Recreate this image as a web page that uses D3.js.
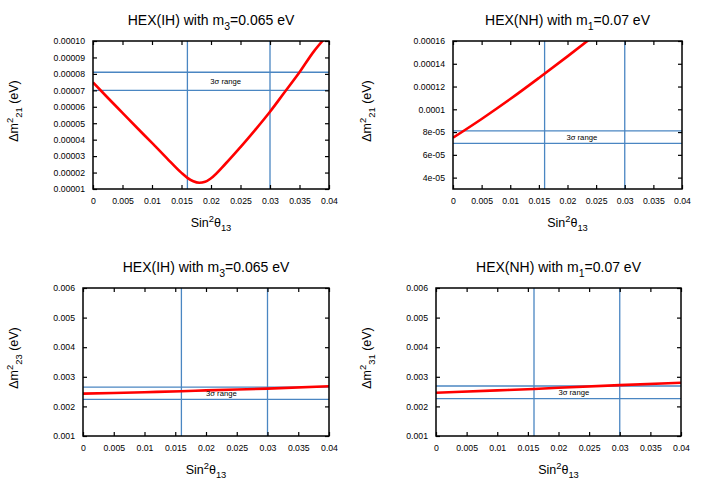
<!DOCTYPE html>
<html>
<head>
<meta charset="utf-8">
<script src="https://cdn.jsdelivr.net/npm/d3@7"></script>
<style>
  body { margin: 0; background: #fff; }
  text { font-family: "Liberation Sans", Arial, sans-serif; fill: #000; }
</style>
</head>
<body>
<div id="chart"></div>
<script>
// values
const xTicks = [0, 0.005, 0.01, 0.015, 0.02, 0.025, 0.03, 0.035, 0.04];
const xTickLabels = ["0", "0.005", "0.01", "0.015", "0.02", "0.025", "0.03", "0.035", "0.04"];
const sigmaX = [0.016, 0.030];

// top left: HEX(IH), dm2_21
const ih21X = [0, 0.0025, 0.005, 0.0075, 0.01, 0.0125, 0.015, 0.016, 0.017, 0.018, 0.019, 0.02, 0.0225, 0.025, 0.0275, 0.03, 0.0325, 0.035, 0.0375, 0.039];
const ih21Y = [7.48e-5, 6.55e-5, 5.63e-5, 4.71e-5, 3.8e-5, 2.88e-5, 1.98e-5, 1.68e-5, 1.47e-5, 1.38e-5, 1.44e-5, 1.65e-5, 2.55e-5, 3.55e-5, 4.6e-5, 5.7e-5, 6.9e-5, 8.1e-5, 9.4e-5, 1.005e-4];
const ih21Ticks = [1e-5, 2e-5, 3e-5, 4e-5, 5e-5, 6e-5, 7e-5, 8e-5, 9e-5, 1e-4];
const ih21Labels = ["0.00001", "0.00002", "0.00003", "0.00004", "0.00005", "0.00006", "0.00007", "0.00008", "0.00009", "0.00010"];

// top right: HEX(NH), dm2_21
const nh21X = [0, 0.005, 0.01, 0.015, 0.02, 0.025];
const nh21Y = [7.5e-5, 9.15e-5, 1.09e-4, 1.275e-4, 1.465e-4, 1.66e-4];
const nh21Ticks = [4e-5, 6e-5, 8e-5, 1e-4, 1.2e-4, 1.4e-4, 1.6e-4];
const nh21Labels = ["4e-05", "6e-05", "8e-05", "0.0001", "0.00012", "0.00014", "0.00016"];

// bottom left: HEX(IH), dm2_23
const ih23X = [0, 0.01, 0.016, 0.02, 0.03, 0.04];
const ih23Y = [0.00243, 0.00248, 0.00251, 0.00254, 0.0026, 0.00268];
// bottom right: HEX(NH), dm2_31
const nh31X = [0, 0.01, 0.016, 0.02, 0.03, 0.04];
const nh31Y = [0.00246, 0.00254, 0.00259, 0.00263, 0.00272, 0.0028];
const atmTicks = [0.001, 0.002, 0.003, 0.004, 0.005, 0.006];
const atmLabels = ["0.001", "0.002", "0.003", "0.004", "0.005", "0.006"];

// 3 sigma ranges
const range21 = [7.0e-5, 8.1e-5];
const range23 = [0.00224, 0.00265];
const range31 = [0.00226, 0.00269];

const width = 706, height = 494;
const blue = "#4a86c2";

const svg = d3.select("#chart").append("svg")
  .attr("width", width)
  .attr("height", height);

// helper to write text with sub/superscripts: parts = [[text, kind]]
function richText(sel, parts, size) {
  let shift = 0;
  parts.forEach(([t, kind]) => {
    let target = 0, fs = size;
    if (kind === "sub") { target = size * 0.35; fs = size * 0.75; }
    if (kind === "sup") { target = -size * 0.4; fs = size * 0.75; }
    sel.append("tspan")
      .attr("dy", target - shift)
      .attr("font-size", fs)
      .text(t);
    shift = target;
  });
}

function drawPanel(p) {
  const x = d3.scaleLinear().domain([0, 0.04]).range([p.left, p.right]);
  const y = d3.scaleLinear().domain(p.yDomain).range([p.bottom, p.top]);
  const g = svg.append("g");

  const clipId = "clip" + p.id;
  g.append("clipPath").attr("id", clipId)
    .append("rect")
    .attr("x", p.left).attr("y", p.top)
    .attr("width", p.right - p.left).attr("height", p.bottom - p.top);

  const inner = g.append("g").attr("clip-path", `url(#${clipId})`);

  // 3 sigma lines
  inner.selectAll(".hline").data(p.range).enter().append("line")
    .attr("x1", p.left).attr("x2", p.right)
    .attr("y1", d => y(d)).attr("y2", d => y(d))
    .attr("stroke", blue).attr("stroke-width", 1.3);
  inner.selectAll(".vline").data(sigmaX).enter().append("line")
    .attr("x1", d => x(d)).attr("x2", d => x(d))
    .attr("y1", p.top).attr("y2", p.bottom)
    .attr("stroke", blue).attr("stroke-width", 1.3);

  g.append("text")
    .attr("x", x(0.0225))
    .attr("y", y(d3.mean(p.range)))
    .attr("dy", "0.35em")
    .attr("text-anchor", "middle")
    .attr("font-size", 7.7)
    .text("3σ range");

  const line = d3.line()
    .x((d, i) => x(p.xs[i]))
    .y(d => y(d))
    .curve(d3.curveMonotoneX);
  inner.append("path")
    .attr("d", line(p.ys))
    .attr("fill", "none")
    .attr("stroke", "#ff0000")
    .attr("stroke-width", 2.6);

  // axes with inward ticks, mirrored
  const fmtX = (d, i) => xTickLabels[i];
  const fmtY = (d, i) => p.yLabels[i];
  const bottom = g.append("g")
    .attr("transform", `translate(0,${p.bottom})`)
    .call(d3.axisBottom(x).tickValues(xTicks).tickFormat(fmtX).tickSize(-4).tickPadding(9));
  const left = g.append("g")
    .attr("transform", `translate(${p.left},0)`)
    .call(d3.axisLeft(y).tickValues(p.yTicks).tickFormat(fmtY).tickSize(-4).tickPadding(8));
  const top = g.append("g")
    .attr("transform", `translate(0,${p.top})`)
    .call(d3.axisTop(x).tickValues(xTicks).tickFormat("").tickSize(-4));
  const right = g.append("g")
    .attr("transform", `translate(${p.right},0)`)
    .call(d3.axisRight(y).tickValues(p.yTicks).tickFormat("").tickSize(-4));
  [bottom, left, top, right].forEach(a => {
    a.select(".domain").remove();
    a.selectAll("line").attr("stroke", "#000").attr("stroke-width", 1.2);
    a.selectAll("text").attr("font-size", 8.7).attr("font-family", "Liberation Sans, Arial, sans-serif");
  });

  g.append("rect")
    .attr("x", p.left).attr("y", p.top)
    .attr("width", p.right - p.left).attr("height", p.bottom - p.top)
    .attr("fill", "none").attr("stroke", "#000").attr("stroke-width", 1.5);

  // title
  const title = g.append("text")
    .attr("x", (p.left + p.right) / 2)
    .attr("y", p.top - 16)
    .attr("text-anchor", "middle");
  richText(title, p.title, 14);

  // x title
  const xt = g.append("text")
    .attr("x", (p.left + p.right) / 2)
    .attr("y", p.bottom + 38)
    .attr("text-anchor", "middle");
  richText(xt, [["Sin", ""], ["2", "sup"], ["θ", ""], ["13", "sub"]], 12.5);

  // y title
  const yt = g.append("text")
    .attr("transform", `translate(${p.yTitleX},${(p.top + p.bottom) / 2 - 4}) rotate(-90)`)
    .attr("text-anchor", "middle");
  richText(yt, [["Δm", ""], ["2", "sup"], [p.ySub, "sub"], [" (eV)", ""]], 12.5);
}

drawPanel({
  id: 1, left: 93, right: 329, top: 41, bottom: 189,
  yDomain: [1e-5, 1e-4], yTicks: ih21Ticks, yLabels: ih21Labels,
  xs: ih21X, ys: ih21Y, range: range21, ySub: "21", yTitleX: 18,
  title: [["HEX(IH) with m", ""], ["3", "sub"], ["=0.065 eV", ""]]
});
drawPanel({
  id: 2, left: 453, right: 682, top: 41, bottom: 189,
  yDomain: [3e-5, 1.6e-4], yTicks: nh21Ticks, yLabels: nh21Labels,
  xs: nh21X, ys: nh21Y, range: range21, ySub: "21", yTitleX: 371,
  title: [["HEX(NH) with m", ""], ["1", "sub"], ["=0.07 eV", ""]]
});
drawPanel({
  id: 3, left: 83, right: 329, top: 288, bottom: 436,
  yDomain: [0.001, 0.006], yTicks: atmTicks, yLabels: atmLabels,
  xs: ih23X, ys: ih23Y, range: range23, ySub: "23", yTitleX: 18,
  title: [["HEX(IH) with m", ""], ["3", "sub"], ["=0.065 eV", ""]]
});
drawPanel({
  id: 4, left: 436, right: 681, top: 288, bottom: 436,
  yDomain: [0.001, 0.006], yTicks: atmTicks, yLabels: atmLabels,
  xs: nh31X, ys: nh31Y, range: range31, ySub: "31", yTitleX: 371,
  title: [["HEX(NH) with m", ""], ["1", "sub"], ["=0.07 eV", ""]]
});
</script>
</body>
</html>
